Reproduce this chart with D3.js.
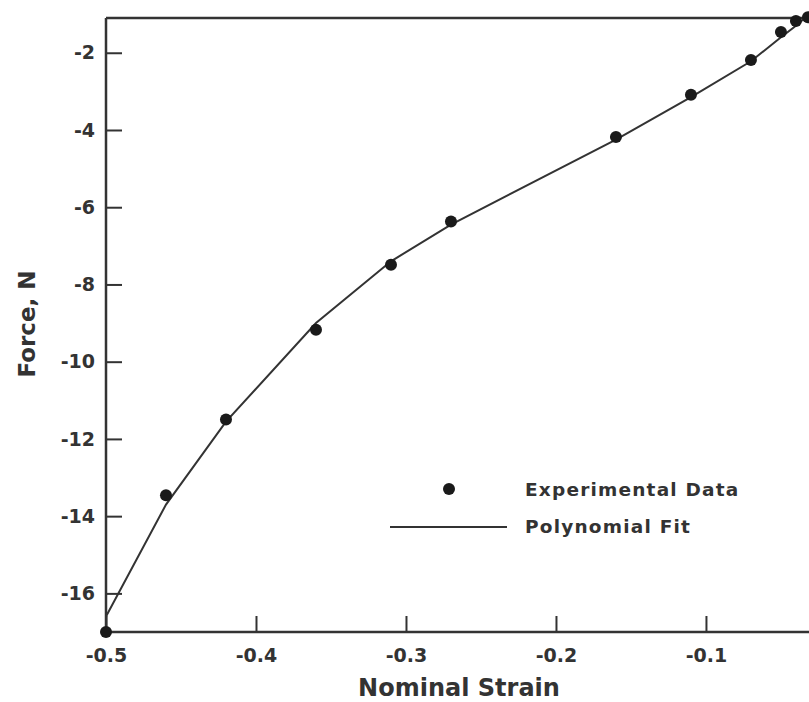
<!DOCTYPE html>
<html>
<head>
<meta charset="utf-8">
<script src="https://cdn.jsdelivr.net/npm/d3@7"></script>
<style>
  body { margin: 0; background: #fff; }
  svg text { font-family: "DejaVu Sans", sans-serif; font-weight: bold; fill: #333; }
</style>
</head>
<body>
<div id="chart"></div>
<script>
// experimental points
const strain = [-0.5, -0.46, -0.42, -0.36, -0.31, -0.27, -0.16, -0.11, -0.07, -0.05, -0.04, -0.032];
const force = [-17, -13.46, -11.5, -9.17, -7.49, -6.37, -4.18, -3.09, -2.19, -1.46, -1.18, -1.08];

// polynomial fit line
const fitStrain = [-0.5, -0.46, -0.42, -0.36, -0.31, -0.27, -0.16, -0.11, -0.07, -0.05, -0.04, -0.031];
const fitForce = [-16.6, -13.7, -11.55, -9.0, -7.4, -6.45, -4.25, -3.15, -2.22, -1.6, -1.3, -1.0];

const xTicks = [-0.5, -0.4, -0.3, -0.2, -0.1];
const yTicks = [-16, -14, -12, -10, -8, -6, -4, -2];

const width = 809, height = 702;
const plot = { left: 106, right: 809, top: 18, bottom: 632 };

const svg = d3.select("#chart")
  .append("svg")
  .attr("width", width)
  .attr("height", height);

const x = d3.scaleLinear().domain([-0.5, -0.0313]).range([plot.left, plot.right]);
const y = d3.scaleLinear().domain([-17, -1.1]).range([plot.bottom, plot.top]);

// plain hyphen for minus, like the original
const fmtX = d => d.toFixed(1);
const fmtY = d => String(d);

// axes, ticks point inward
const xAxis = svg.append("g")
  .attr("transform", "translate(0," + plot.bottom + ")")
  .call(d3.axisBottom(x).tickValues(xTicks).tickSize(-16).tickFormat(fmtX));
const yAxis = svg.append("g")
  .attr("transform", "translate(" + plot.left + ",0)")
  .call(d3.axisLeft(y).tickValues(yTicks).tickSize(-16).tickFormat(fmtY));

[xAxis, yAxis].forEach(function(g) {
  g.select(".domain").remove();
  g.selectAll(".tick line").attr("stroke", "#333").attr("stroke-width", 2);
  g.selectAll(".tick text").style("font-size", "19px").attr("fill", "#333");
});
xAxis.selectAll(".tick text").attr("y", 23).attr("dy", "0.35em");
yAxis.selectAll(".tick text").attr("x", -11);

// frame lines: left, bottom, top
svg.append("line").attr("x1", plot.left).attr("x2", plot.left).attr("y1", plot.top).attr("y2", plot.bottom)
  .attr("stroke", "#333").attr("stroke-width", 2.5);
svg.append("line").attr("x1", plot.left).attr("x2", plot.right).attr("y1", plot.bottom).attr("y2", plot.bottom)
  .attr("stroke", "#333").attr("stroke-width", 2.5);
svg.append("line").attr("x1", plot.left).attr("x2", plot.right).attr("y1", plot.top).attr("y2", plot.top)
  .attr("stroke", "#333").attr("stroke-width", 2.5);

// fit line
const fitData = fitStrain.map((s, i) => ({ x: s, y: fitForce[i] }));
svg.append("path")
  .datum(fitData)
  .attr("fill", "none")
  .attr("stroke", "#333")
  .attr("stroke-width", 2)
  .attr("d", d3.line().x(d => x(d.x)).y(d => y(d.y)));

// points
svg.selectAll(".pt")
  .data(strain.map((s, i) => ({ x: s, y: force[i] })))
  .enter()
  .append("circle")
  .attr("class", "pt")
  .attr("cx", d => x(d.x))
  .attr("cy", d => y(d.y))
  .attr("r", 6)
  .attr("fill", "#1a1a1a");

// axis titles
svg.append("text")
  .attr("x", 459)
  .attr("y", 696)
  .attr("text-anchor", "middle")
  .style("font-size", "24px")
  .text("Nominal Strain");
svg.append("text")
  .attr("transform", "translate(35,324) rotate(-90)")
  .attr("text-anchor", "middle")
  .style("font-size", "23px")
  .text("Force, N");

// legend
svg.append("circle").attr("cx", 449).attr("cy", 489).attr("r", 6).attr("fill", "#1a1a1a");
svg.append("text").attr("x", 525).attr("y", 490).attr("dy", "0.35em")
  .style("font-size", "18.5px").style("letter-spacing", "1.2px").text("Experimental Data");
svg.append("line").attr("x1", 390).attr("x2", 507).attr("y1", 527).attr("y2", 527)
  .attr("stroke", "#333").attr("stroke-width", 2);
svg.append("text").attr("x", 525).attr("y", 527).attr("dy", "0.35em")
  .style("font-size", "18.5px").style("letter-spacing", "1.2px").text("Polynomial Fit");
</script>
</body>
</html>
